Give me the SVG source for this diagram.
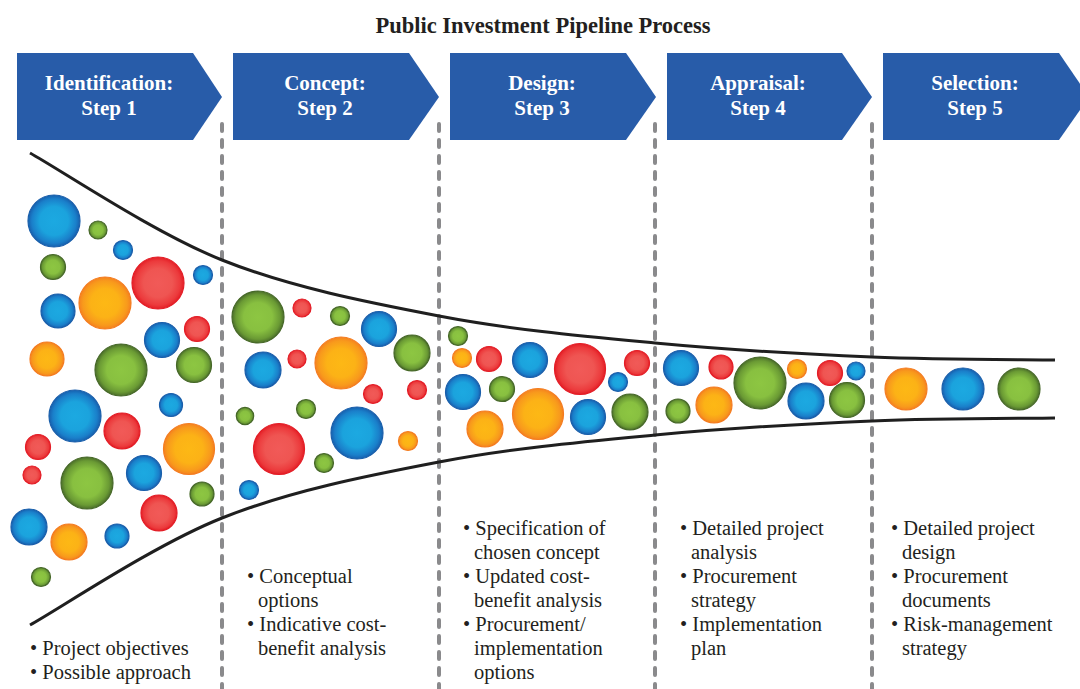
<svg xmlns="http://www.w3.org/2000/svg" width="1080" height="689" viewBox="0 0 1080 689">
<defs>
<radialGradient id="gB" cx="0.5" cy="0.5" r="0.5"><stop offset="0" stop-color="#1ca9e1"/><stop offset="0.55" stop-color="#1ba3dd"/><stop offset="0.85" stop-color="#1a7fca"/><stop offset="1" stop-color="#1760ae"/></radialGradient>
<radialGradient id="gG" cx="0.5" cy="0.5" r="0.5"><stop offset="0" stop-color="#8dc642"/><stop offset="0.55" stop-color="#88c040"/><stop offset="0.85" stop-color="#6a9a34"/><stop offset="1" stop-color="#4b6e2a"/></radialGradient>
<radialGradient id="gR" cx="0.5" cy="0.5" r="0.5"><stop offset="0" stop-color="#f15a58"/><stop offset="0.55" stop-color="#ef5552"/><stop offset="0.85" stop-color="#ec3a3c"/><stop offset="1" stop-color="#e41e26"/></radialGradient>
<radialGradient id="gO" cx="0.5" cy="0.5" r="0.5"><stop offset="0" stop-color="#fdb815"/><stop offset="0.55" stop-color="#fcb216"/><stop offset="0.85" stop-color="#f89a1c"/><stop offset="1" stop-color="#f5821f"/></radialGradient>
</defs>
<style>
.title{font-family:"Liberation Serif",serif;font-weight:bold;font-size:22.5px;fill:#231f20;text-anchor:middle}
.chev{fill:#285ca9}
.ct{font-family:"Liberation Serif",serif;font-weight:bold;font-size:21px;fill:#ffffff;text-anchor:middle}
.sep{stroke:#8a8a8c;stroke-width:4;stroke-dasharray:7 9;stroke-linecap:round;fill:none}
.fun{stroke:#1f1f1f;stroke-width:3;fill:none}
.bt{font-family:"Liberation Serif",serif;font-size:20.5px;fill:#231f20}
.b{fill:url(#gB);stroke:#1a5fab;stroke-width:1.2}
.g{fill:url(#gG);stroke:#466828;stroke-width:1.2}
.r{fill:url(#gR);stroke:#e31d26;stroke-width:1.2}
.o{fill:url(#gO);stroke:#f47c20;stroke-width:1.2}
</style>
<rect width="1080" height="689" fill="#ffffff"/>
<text class="title" x="543" y="33">Public Investment Pipeline Process</text>

<g id="connectors">
<line class="sep" x1="222" y1="124" x2="222" y2="689"/>
<line class="sep" x1="439" y1="124" x2="439" y2="689"/>
<line class="sep" x1="655" y1="124" x2="655" y2="689"/>
<line class="sep" x1="872" y1="124" x2="872" y2="689"/>
<path id="funnel-top" class="fun" d="M30,153 C62,170.8 153.8,232.8 222,260 C290.2,287.2 366.8,302.2 439,316 C511.2,329.8 582.8,336.2 655,343 C727.2,349.8 805.3,354.2 872,357 C938.7,359.8 1024.5,359.5 1055,360"/>
<path id="funnel-bottom" class="fun" transform="matrix(1 0 0 -1 0 778)" d="M30,153 C62,170.8 153.8,232.8 222,260 C290.2,287.2 366.8,302.2 439,316 C511.2,329.8 582.8,336.2 655,343 C727.2,349.8 805.3,354.2 872,357 C938.7,359.8 1024.5,359.5 1055,360"/>
</g>

<g id="step1">
<polygon class="chev" points="17,53 193,53 222,97 193,140 17,140"/>
<text class="ct" x="109" y="90">Identification:</text>
<text class="ct" x="109" y="115">Step 1</text>
</g>
<g id="step2">
<polygon class="chev" points="233,53 409,53 439,97 409,140 233,140"/>
<text class="ct" x="325" y="90">Concept:</text>
<text class="ct" x="325" y="115">Step 2</text>
</g>
<g id="step3">
<polygon class="chev" points="450,53 626,53 656,97 626,140 450,140"/>
<text class="ct" x="542" y="90">Design:</text>
<text class="ct" x="542" y="115">Step 3</text>
</g>
<g id="step4">
<polygon class="chev" points="667,53 842,53 872,97 842,140 667,140"/>
<text class="ct" x="758" y="90">Appraisal:</text>
<text class="ct" x="758" y="115">Step 4</text>
</g>
<g id="step5">
<polygon class="chev" points="883,53 1059,53 1089,97 1059,140 883,140"/>
<text class="ct" x="975" y="90">Selection:</text>
<text class="ct" x="975" y="115">Step 5</text>
</g>

<g id="bubbles1">
<circle class="b" cx="54" cy="221" r="26"/>
<circle class="g" cx="98" cy="230" r="9"/>
<circle class="b" cx="123" cy="250" r="9.5"/>
<circle class="g" cx="53" cy="267" r="12.5"/>
<circle class="r" cx="158" cy="283" r="26"/>
<circle class="b" cx="203" cy="275" r="9.5"/>
<circle class="b" cx="58" cy="311" r="17"/>
<circle class="o" cx="105" cy="303" r="26"/>
<circle class="r" cx="197" cy="329" r="12.5"/>
<circle class="b" cx="162" cy="340" r="17.5"/>
<circle class="o" cx="47" cy="359" r="17"/>
<circle class="g" cx="121" cy="370" r="26"/>
<circle class="g" cx="194" cy="365" r="17.5"/>
<circle class="b" cx="171" cy="405" r="11.5"/>
<circle class="b" cx="75" cy="416" r="26"/>
<circle class="r" cx="122" cy="431" r="18"/>
<circle class="r" cx="38" cy="447" r="12.5"/>
<circle class="o" cx="189" cy="449" r="25.5"/>
<circle class="r" cx="32" cy="475" r="9"/>
<circle class="g" cx="87" cy="483" r="26"/>
<circle class="b" cx="144" cy="473" r="17.5"/>
<circle class="g" cx="202" cy="494" r="12"/>
<circle class="r" cx="159" cy="513" r="18"/>
<circle class="b" cx="29" cy="527" r="18"/>
<circle class="o" cx="69" cy="542" r="18"/>
<circle class="b" cx="117" cy="536" r="12"/>
<circle class="g" cx="41" cy="577" r="9.5"/>
</g>

<g id="bubbles2">
<circle class="g" cx="258" cy="317" r="26"/>
<circle class="r" cx="302" cy="308" r="9"/>
<circle class="g" cx="340" cy="316" r="9.5"/>
<circle class="b" cx="379" cy="329" r="17.5"/>
<circle class="g" cx="412" cy="353" r="18"/>
<circle class="b" cx="263" cy="370" r="18"/>
<circle class="r" cx="297" cy="359" r="9"/>
<circle class="o" cx="341" cy="363" r="26"/>
<circle class="r" cx="373" cy="394" r="9.5"/>
<circle class="r" cx="417" cy="390" r="9.5"/>
<circle class="g" cx="245" cy="416" r="8.7"/>
<circle class="g" cx="306" cy="409" r="9.5"/>
<circle class="b" cx="357" cy="433" r="26"/>
<circle class="r" cx="279" cy="449" r="25.5"/>
<circle class="o" cx="408" cy="441" r="9.5"/>
<circle class="g" cx="324" cy="463" r="9.5"/>
<circle class="b" cx="249" cy="490" r="9.5"/>
</g>

<g id="bubbles3">
<circle class="g" cx="458" cy="336" r="9.5"/>
<circle class="o" cx="462" cy="358" r="9.5"/>
<circle class="r" cx="489" cy="359" r="12.5"/>
<circle class="b" cx="530" cy="360" r="17.5"/>
<circle class="r" cx="580" cy="369" r="25.5"/>
<circle class="r" cx="637" cy="363" r="12.5"/>
<circle class="b" cx="463" cy="392" r="17.5"/>
<circle class="g" cx="502" cy="389" r="12.5"/>
<circle class="b" cx="618" cy="382" r="9.5"/>
<circle class="o" cx="538" cy="414" r="25.5"/>
<circle class="b" cx="588" cy="417" r="17.5"/>
<circle class="g" cx="630" cy="412" r="18"/>
<circle class="o" cx="485" cy="429" r="18"/>
</g>

<g id="bubbles4">
<circle class="b" cx="681" cy="368" r="17.5"/>
<circle class="r" cx="721" cy="367" r="12"/>
<circle class="g" cx="760" cy="383" r="26"/>
<circle class="o" cx="797" cy="369" r="9.5"/>
<circle class="r" cx="830" cy="373" r="12.5"/>
<circle class="b" cx="856" cy="371" r="9"/>
<circle class="g" cx="678" cy="411" r="12"/>
<circle class="o" cx="714" cy="405" r="18"/>
<circle class="b" cx="806" cy="401" r="18"/>
<circle class="g" cx="847" cy="400" r="17.5"/>
</g>

<g id="bubbles5">
<circle class="o" cx="906" cy="389" r="21"/>
<circle class="b" cx="963" cy="389" r="21"/>
<circle class="g" cx="1019" cy="389" r="21"/>
</g>

<g id="notes1">
<text class="bt" x="30" y="655">• Project objectives</text>
<text class="bt" x="30" y="679">• Possible approach</text>
</g>
<g id="notes2">
<text class="bt" x="247" y="583">• Conceptual</text>
<text class="bt" x="258" y="607">options</text>
<text class="bt" x="247" y="631">• Indicative cost-</text>
<text class="bt" x="258" y="655">benefit analysis</text>
</g>
<g id="notes3">
<text class="bt" x="463" y="535">• Specification of</text>
<text class="bt" x="474" y="559">chosen concept</text>
<text class="bt" x="463" y="583">• Updated cost-</text>
<text class="bt" x="474" y="607">benefit analysis</text>
<text class="bt" x="463" y="631">• Procurement/</text>
<text class="bt" x="474" y="655">implementation</text>
<text class="bt" x="474" y="679">options</text>
</g>
<g id="notes4">
<text class="bt" x="680" y="535">• Detailed project</text>
<text class="bt" x="691" y="559">analysis</text>
<text class="bt" x="680" y="583">• Procurement</text>
<text class="bt" x="691" y="607">strategy</text>
<text class="bt" x="680" y="631">• Implementation</text>
<text class="bt" x="691" y="655">plan</text>
</g>
<g id="notes5">
<text class="bt" x="891" y="535">• Detailed project</text>
<text class="bt" x="902" y="559">design</text>
<text class="bt" x="891" y="583">• Procurement</text>
<text class="bt" x="902" y="607">documents</text>
<text class="bt" x="891" y="631">• Risk-management</text>
<text class="bt" x="902" y="655">strategy</text>
</g>
</svg>
